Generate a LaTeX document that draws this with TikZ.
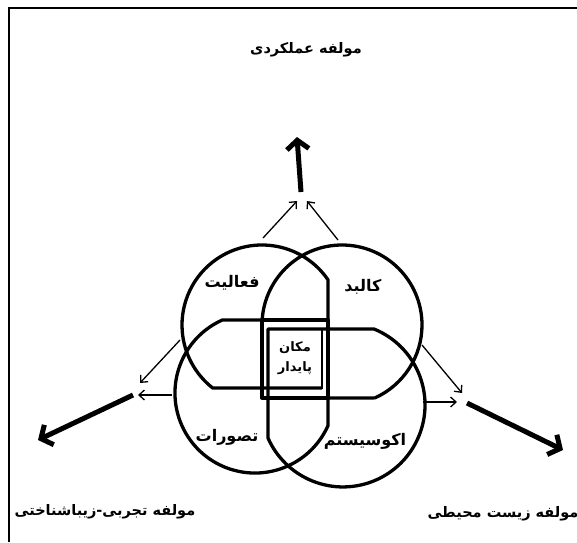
\documentclass[tikz,border=0pt]{standalone}
\usepackage{fontspec}
\usetikzlibrary{arrows.meta}
\newfontfamily\fa[Script=Arabic]{DejaVu Sans}
\TeXXeTstate=1
\begin{document}
\begin{tikzpicture}[x=1pt,y=-1pt,
  petal/.style={line width=3.3pt, line join=round},
  smallarrow/.style={line width=1.3pt, -{Straight Barb[length=5.5pt,width=10pt]}},
  bigarrow/.style={line width=5pt, -{Straight Barb[length=9pt,width=22pt]}},
  lbl/.style={font=\fa\bfseries\fontsize{16}{18}\selectfont, inner sep=0pt},
  title/.style={font=\fa\bfseries\fontsize{14.5}{16}\selectfont, inner sep=0pt},
]
\useasboundingbox (0,0) rectangle (577,542);
\fill[white] (0,0) rectangle (577,542);
% scan border
\draw[line width=2.2pt] (8.7,542) -- (8.7,8.3) -- (577,8.3);

% four petals (circles with one squared corner)
\draw[petal] (328,398) -- (328,279.8) arc[start angle=-34.4, end angle=-232.0, radius=80] -- (322,388);
\draw[petal] (374.7,398) -- (262,398) -- (262,325) arc[start angle=180, end angle=425.9, radius=80];
\draw[petal] (328,320) -- (222.3,320) arc[start angle=245.9, end angle=24.1, radius=80] -- (328,398);
\draw[petal] (268,329) -- (374,329) arc[start angle=-67.8, end angle=156.1, radius=82] -- cycle;

% centre squares
\draw[petal] (262,320) rectangle (328,398);
\node[draw, line width=2.8pt, minimum width=54pt, minimum height=59pt, inner sep=0pt,
      align=center, font=\fa\bfseries\fontsize{13}{20}\selectfont] (core) at (295,358.5)
      {\beginR مکان\endR\\\beginR پایدار\endR};

% labels
\node[lbl] (act) at (232,283) {\beginR فعالیت\endR};
\node[lbl] (body) at (363,287) {\beginR کالبد\endR};
\node[lbl] (perc) at (227,437) {\beginR تصورات\endR};
\node[lbl] (eco) at (365,441) {\beginR اکوسیستم\endR};
\node[title] (ttop) at (306,50) {\beginR مولفه عملکردی\endR};
\node[title] (tleft) at (105,512) {\beginR مولفه تجربی-زیباشناختی\endR};
\node[title] (tright) at (503,514) {\beginR مولفه زیست محیطی\endR};

% arrow end points
\coordinate (ta1) at (263,238); \coordinate (th1) at (297,201);
\coordinate (ta2) at (338,240); \coordinate (th2) at (307,201);
\coordinate (la1) at (180,340); \coordinate (lh1) at (140,383);
\coordinate (la2) at (172,395); \coordinate (lh2) at (138,395);
\coordinate (ra1) at (422,345); \coordinate (rh1) at (462,393);
\coordinate (ra2) at (423,402); \coordinate (rh2) at (457,402);
\coordinate (tb0) at (301,192); \coordinate (tb1) at (297,137);
\coordinate (lb0) at (133,395); \coordinate (lb1) at (38,440);
\coordinate (rb0) at (467,403); \coordinate (rb1) at (563,450);

\draw[smallarrow] (ta1) -- (th1);
\draw[smallarrow] (ta2) -- (th2);
\draw[smallarrow] (la1) -- (lh1);
\draw[smallarrow] (la2) -- (lh2);
\draw[smallarrow] (ra1) -- (rh1);
\draw[smallarrow] (ra2) -- (rh2);
\draw[bigarrow] (tb0) -- (tb1);
\draw[bigarrow] (lb0) -- (lb1);
\draw[bigarrow] (rb0) -- (rb1);
\end{tikzpicture}
\end{document}
